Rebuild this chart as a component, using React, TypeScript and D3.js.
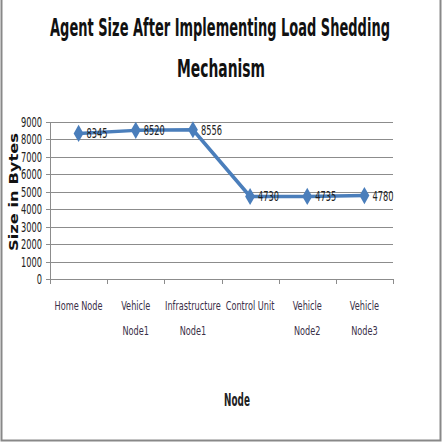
import React, { useEffect, useRef } from "react";
import * as d3 from "d3";

const categories = [
  ["Home Node"],
  ["Vehicle", "Node1"],
  ["Infrastructure", "Node1"],
  ["Control Unit"],
  ["Vehicle", "Node2"],
  ["Vehicle", "Node3"],
];
const sizes = [8345, 8520, 8556, 4730, 4735, 4780];
const yTicks = [0, 1000, 2000, 3000, 4000, 5000, 6000, 7000, 8000, 9000];
const titleLines = ["Agent Size After Implementing Load Shedding", "Mechanism"];

const W = 445;
const H = 444;
const SANS = "'DejaVu Sans', sans-serif";

const App: React.FC = () => {
  const svgRef = useRef<SVGSVGElement | null>(null);

  useEffect(() => {
    if (!svgRef.current) return;
    const svg = d3.select(svgRef.current);
    svg.selectAll("*").remove();

    const left = 50;
    const right = 393;
    const top = 122;
    const bottom = 279;

    // 좁은 글꼴 흉내: 가로로 눌러 그린다
    const squeezed = (
      g: d3.Selection<any, any, any, any>,
      tx: number,
      ty: number,
      sx: number,
      t: string | number
    ) =>
      g
        .append("text")
        .attr("transform", `translate(${tx},${ty}) scale(${sx},1)`)
        .text(t);

    // 테두리
    svg
      .append("rect")
      .attr("x", 1.5)
      .attr("y", -2)
      .attr("width", 439)
      .attr("height", 442.5)
      .attr("fill", "#fff")
      .attr("stroke", "#888")
      .attr("stroke-width", 2);

    /* 제목: 폭을 재서 목표 폭으로 맞춤 */
    const title = svg
      .append("g")
      .attr("font-family", SANS)
      .attr("font-weight", "bold")
      .attr("font-size", 24)
      .attr("fill", "#111")
      .attr("text-anchor", "middle");
    const targets = [
      { cx: 220, cy: 36, w: 340 },
      { cx: 221, cy: 77, w: 88 },
    ];
    titleLines.forEach((t, i) => {
      const node = title.append("text").text(t);
      const len = (node.node() as SVGTextElement).getComputedTextLength() || 1;
      const k = targets[i].w / len;
      node.attr(
        "transform",
        `translate(${targets[i].cx},${targets[i].cy}) scale(${k},1)`
      );
    });

    const x = d3
      .scaleBand<number>()
      .domain(d3.range(categories.length))
      .range([left, right]);
    const y = d3.scaleLinear().domain([0, 9000]).range([bottom, top]);
    const cx = (i: number) => x(i)! + x.bandwidth() / 2;

    /* 격자 */
    svg
      .append("g")
      .selectAll("line")
      .data(yTicks)
      .enter()
      .append("line")
      .attr("x1", left)
      .attr("x2", right)
      .attr("y1", (d) => Math.round(y(d)) + 0.5)
      .attr("y2", (d) => Math.round(y(d)) + 0.5)
      .attr("stroke", "#8c8c8c")
      .attr("stroke-width", 1);

    // y 축
    svg
      .append("line")
      .attr("x1", left + 0.5)
      .attr("x2", left + 0.5)
      .attr("y1", top)
      .attr("y2", bottom)
      .attr("stroke", "#8c8c8c");
    svg
      .append("g")
      .selectAll("line")
      .data(yTicks)
      .enter()
      .append("line")
      .attr("x1", left - 4)
      .attr("x2", left)
      .attr("y1", (d) => Math.round(y(d)) + 0.5)
      .attr("y2", (d) => Math.round(y(d)) + 0.5)
      .attr("stroke", "#8c8c8c");

    const yl = svg
      .append("g")
      .attr("text-anchor", "end")
      .attr("font-family", SANS)
      .attr("font-size", 14)
      .attr("fill", "#222");
    yTicks.forEach((d) => squeezed(yl, left - 8, y(d) + 5, 0.59, d));

    // x 축 눈금
    const edges = d3
      .range(categories.length + 1)
      .map((i) => (i < categories.length ? x(i)! : right));
    svg
      .append("g")
      .selectAll("line")
      .data(edges)
      .enter()
      .append("line")
      .attr("x1", (d) => Math.round(d) + 0.5)
      .attr("x2", (d) => Math.round(d) + 0.5)
      .attr("y1", bottom)
      .attr("y2", bottom + 5)
      .attr("stroke", "#8c8c8c");

    const xl = svg
      .append("g")
      .attr("font-family", SANS)
      .attr("font-size", 12)
      .attr("fill", "#3a3048")
      .attr("text-anchor", "middle");
    categories.forEach((lines, i) => {
      lines.forEach((t, j) => squeezed(xl, cx(i), 310 + j * 25, 0.68, t));
    });

    /* 축 제목 */
    svg
      .append("text")
      .attr("transform", `translate(18,192) rotate(-90)`)
      .attr("text-anchor", "middle")
      .attr("font-family", SANS)
      .attr("font-weight", "bold")
      .attr("font-size", 13)
      .attr("fill", "#111")
      .attr("textLength", 118)
      .attr("lengthAdjust", "spacingAndGlyphs")
      .text("Size in Bytes");

    const xt = svg
      .append("g")
      .attr("text-anchor", "middle")
      .attr("font-family", SANS)
      .attr("font-weight", "bold")
      .attr("font-size", 17)
      .attr("fill", "#222");
    squeezed(xt, 237, 406, 0.52, "Node");

    /* 선 + 마커 */
    const line = d3
      .line<number>()
      .x((_, i) => cx(i))
      .y((d) => y(d));
    svg
      .append("path")
      .datum(sizes)
      .attr("d", line)
      .attr("fill", "none")
      .attr("stroke", "#4a7ebb")
      .attr("stroke-width", 3.5)
      .attr("stroke-linejoin", "round");

    const diamond = d3.symbol().type(d3.symbolDiamond).size(85);
    svg
      .append("g")
      .selectAll("path")
      .data(sizes)
      .enter()
      .append("path")
      .attr("d", diamond)
      .attr("transform", (d, i) => `translate(${cx(i)},${y(d)})`)
      .attr("fill", "#4a7ebb");

    const dl = svg
      .append("g")
      .attr("font-family", SANS)
      .attr("font-size", 14)
      .attr("fill", "#222");
    sizes.forEach((d, i) => squeezed(dl, cx(i) + 8, y(d) + 5, 0.59, d));
  }, []);

  return (
    <div style={{ position: "absolute", left: 0, top: 0 }}>
      <svg ref={svgRef} width={W} height={H} style={{ display: "block" }} />
    </div>
  );
};

export default App;
